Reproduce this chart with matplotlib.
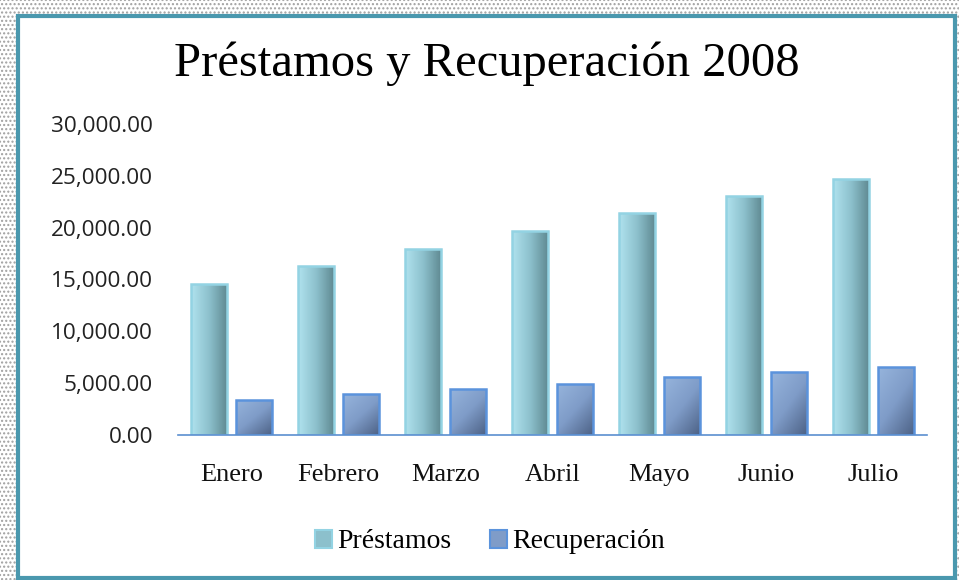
import numpy as np
import matplotlib
matplotlib.use("Agg")
import matplotlib.pyplot as plt
from matplotlib.patches import Rectangle, Patch
from matplotlib.colors import LinearSegmentedColormap
from matplotlib.ticker import FuncFormatter

categories = ["Enero", "Febrero", "Marzo", "Abril", "Mayo", "Junio", "Julio"]
prestamos = [14550, 16300, 17950, 19650, 21400, 23050, 24700]
recuperacion = [3400, 3950, 4450, 4900, 5550, 6050, 6550]
series_names = ["Préstamos", "Recuperación"]
title = "Préstamos y Recuperación 2008"
yticks = [0, 5000, 10000, 15000, 20000, 25000, 30000]

W, H = 959, 580
fig = plt.figure(figsize=(W / 100, H / 100), dpi=100)
fig.patch.set_facecolor("white")

# outer dotted area + teal frame
bg = Rectangle((0, 0), 1, 1, transform=fig.transFigure, facecolor="white",
               edgecolor="#a0a0a0", hatch="....", linewidth=0, zorder=-10)
fig.patches.append(bg)
frame = Rectangle((18 / W, 1 - 578 / H), (955 - 18) / W, (578 - 16) / H,
                  transform=fig.transFigure, facecolor="white",
                  edgecolor="#4a98ae", linewidth=3, zorder=-5)
fig.patches.append(frame)

ax = fig.add_axes([178 / W, 1 - 435 / H, (927 - 178) / W, (435 - 124) / H])
ax.set_facecolor("none")

x = np.arange(len(categories))
bw = 0.345
gap = 0.075
b1 = ax.bar(x - (bw + gap) / 2, prestamos, bw, facecolor="none",
            edgecolor="#93d3e3", linewidth=1.8, zorder=3)
b2 = ax.bar(x + (bw + gap) / 2, recuperacion, bw, facecolor="none",
            edgecolor="#5b93dc", linewidth=1.8, zorder=3)

cm1 = LinearSegmentedColormap.from_list("p", ["#b0e2ee", "#8cc0cc", "#5e8890"])
cm2 = LinearSegmentedColormap.from_list("r", ["#96b4dc", "#7f9cc8", "#4c6185"])

gx = np.linspace(0, 1, 64)[None, :]
gd = (np.linspace(0, 1, 64)[None, :] * 0.45 + np.linspace(0, 1, 64)[:, None] * 0.55)

for r in b1:
    im = ax.imshow(gx, cmap=cm1, extent=(r.get_x(), r.get_x() + r.get_width(), 0, r.get_height()),
                   aspect="auto", zorder=2, interpolation="bilinear")
    im.set_clip_path(r)
for r in b2:
    im = ax.imshow(gd, cmap=cm2, extent=(r.get_x(), r.get_x() + r.get_width(), 0, r.get_height()),
                   aspect="auto", zorder=2, interpolation="bilinear", origin="upper")
    im.set_clip_path(r)

ax.set_xlim(-0.5, len(categories) - 0.5)
ax.set_ylim(0, 30000)
ax.set_yticks(yticks)
ax.yaxis.set_major_formatter(FuncFormatter(lambda v, p: f"{v:,.2f}"))
ax.set_xticks(x)
ax.set_xticklabels(categories, fontfamily="Liberation Serif", fontsize=19, color="#111111")
for lab in ax.get_yticklabels():
    lab.set_fontfamily("Open Sans")
    lab.set_fontsize(16.2)
    lab.set_color("#222222")
ax.tick_params(axis="both", length=0)
ax.tick_params(axis="y", pad=18)
ax.tick_params(axis="x", pad=21)
for s in ["top", "right", "left"]:
    ax.spines[s].set_visible(False)
ax.spines["bottom"].set_color("#5b8fd0")
ax.spines["bottom"].set_linewidth(1.2)
ax.spines["bottom"].set_zorder(4)

fig.text(487 / W, 1 - 64 / H, title, ha="center", va="center",
         fontfamily="Liberation Serif", fontsize=35, color="black")

handles = [Patch(facecolor="#8cc0cc", edgecolor="#93d3e3", linewidth=1.5, label=series_names[0]),
           Patch(facecolor="#7f9cc8", edgecolor="#5b93dc", linewidth=1.5, label=series_names[1])]
fig.legend(handles=handles, loc="center", bbox_to_anchor=(490 / W, 1 - 542 / H), ncol=2,
           frameon=False, prop={"family": "Liberation Serif", "size": 20},
           handlelength=0.6, handleheight=0.6, handletextpad=0.2, columnspacing=1.4)

fig.savefig("out.png", dpi=100)
